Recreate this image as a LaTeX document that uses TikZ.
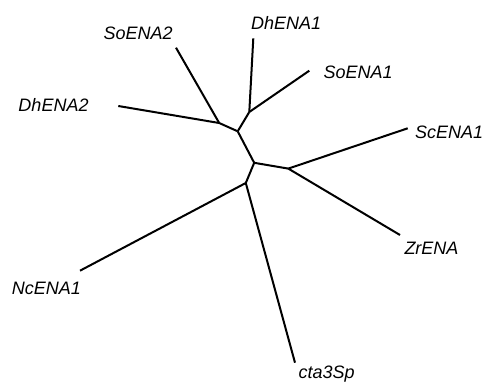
\documentclass[tikz,border=0pt]{standalone}
\usepackage{fontspec}
\setmainfont{Liberation Sans}
\begin{document}
\begin{tikzpicture}[x=1pt,y=-1pt,
  branch/.style={line width=2pt,line join=round},
  taxon/.style={font=\fontsize{18}{20}\selectfont\itshape,inner sep=0pt,anchor=base west}]
\useasboundingbox (0,0) rectangle (483,383);
% tips
\coordinate (tDh1) at (253.3,38.3);
\coordinate (tSo1) at (309.3,70.7);
\coordinate (tSo2) at (176,47.7);
\coordinate (tDh2) at (118.3,106);
\coordinate (tSc) at (407.7,128.3);
\coordinate (tZr) at (400,235);
\coordinate (tNc) at (80,270.7);
\coordinate (tCta) at (295,362.7);
% internal nodes
\coordinate (n1) at (249.3,112);
\coordinate (n2) at (219.2,123);
\coordinate (nA) at (237.7,131.3);
\coordinate (nB) at (254.2,162.8);
\coordinate (nC) at (288.3,168.6);
\coordinate (nD) at (245.8,183);
% branches
\draw[branch] (tDh1) -- (n1);
\draw[branch] (tSo1) -- (n1);
\draw[branch] (n1) -- (nA);
\draw[branch] (tSo2) -- (n2);
\draw[branch] (tDh2) -- (n2);
\draw[branch] (n2) -- (nA);
\draw[branch] (nA) -- (nB);
\draw[branch] (nB) -- (nC);
\draw[branch] (nC) -- (tSc);
\draw[branch] (nC) -- (tZr);
\draw[branch] (nB) -- (nD);
\draw[branch] (nD) -- (tNc);
\draw[branch] (nD) -- (tCta);
% labels
\node[taxon] (lSo2) at (103.3,39.5) {SoENA2};
\node[taxon] (lDh1) at (251,29.3) {DhENA1};
\node[taxon] (lSo1) at (323.3,78.3) {SoENA1};
\node[taxon] (lDh2) at (18.3,111.7) {DhENA2};
\node[taxon] (lSc) at (415,138.3) {ScENA1};
\node[taxon] (lZr) at (404.3,254.3) {ZrENA};
\node[taxon] (lNc) at (11.7,294.3) {NcENA1};
\node[taxon] (lCta) at (298.3,378.5) {cta3Sp};
\end{tikzpicture}
\end{document}
